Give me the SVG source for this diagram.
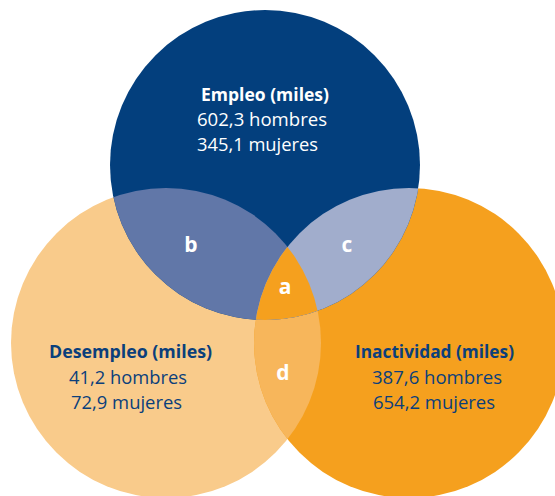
<svg xmlns="http://www.w3.org/2000/svg" width="555" height="496" viewBox="0 0 555 496">
<style>
  .t { font-family: "Open Sans", "Noto Sans", "Liberation Sans", sans-serif; font-size: 18px; }
  .b { font-weight: 700; }
  .w { fill: #FFFFFF; }
  .n { fill: #0B3F7B; }
  .lbl { font-family: "Open Sans", "Noto Sans", "Liberation Sans", sans-serif; font-size: 21px; font-weight: 700; fill: #FFFFFF; text-anchor: middle; }
</style>
<defs>
  <circle id="cTop" cx="265" cy="165" r="155"/>
  <circle id="cLeft" cx="166" cy="343" r="155"/>
  <circle id="cRight" cx="409" cy="343" r="155"/>
  <clipPath id="clipLeft"><use href="#cLeft"/></clipPath>
  <clipPath id="clipRight"><use href="#cRight"/></clipPath>
  <clipPath id="clipTop"><use href="#cTop"/></clipPath>
</defs>
<rect width="555" height="496" fill="#FFFFFF"/>

<g id="desempleo">
  <use href="#cLeft" fill="#F9CB8B"/>
</g>
<g id="inactividad">
  <use href="#cRight" fill="#F5A01E"/>
</g>
<g id="region-d">
  <g clip-path="url(#clipLeft)"><use href="#cRight" fill="#F7B65B"/></g>
</g>
<g id="empleo">
  <use href="#cTop" fill="#033F7D"/>
</g>
<g id="region-b">
  <g clip-path="url(#clipLeft)"><use href="#cTop" fill="#6177A8"/></g>
</g>
<g id="region-c">
  <g clip-path="url(#clipRight)"><use href="#cTop" fill="#A1ADCC"/></g>
</g>
<g id="region-a">
  <g clip-path="url(#clipLeft)"><g clip-path="url(#clipRight)"><use href="#cTop" fill="#F5A01E"/></g></g>
</g>

<g id="connectors"></g>

<g id="texts-empleo">
  <text class="t b w" x="201" y="101" textLength="128" lengthAdjust="spacingAndGlyphs">Empleo (miles)</text>
  <text class="t w" x="197" y="126" textLength="130" lengthAdjust="spacingAndGlyphs">602,3 hombres</text>
  <text class="t w" x="197" y="151" textLength="121" lengthAdjust="spacingAndGlyphs">345,1 mujeres</text>
</g>
<g id="texts-desempleo">
  <text class="t b n" x="49" y="358" textLength="163" lengthAdjust="spacingAndGlyphs">Desempleo (miles)</text>
  <text class="t n" x="69" y="384" textLength="118" lengthAdjust="spacingAndGlyphs">41,2 hombres</text>
  <text class="t n" x="71" y="409" textLength="111" lengthAdjust="spacingAndGlyphs">72,9 mujeres</text>
</g>
<g id="texts-inactividad">
  <text class="t b n" x="355" y="358" textLength="159" lengthAdjust="spacingAndGlyphs">Inactividad (miles)</text>
  <text class="t n" x="372" y="384" textLength="130" lengthAdjust="spacingAndGlyphs">387,6 hombres</text>
  <text class="t n" x="373" y="409" textLength="122" lengthAdjust="spacingAndGlyphs">654,2 mujeres</text>
</g>
<g id="labels">
  <text class="lbl" x="191" y="252">b</text>
  <text class="lbl" x="347" y="252">c</text>
  <text class="lbl" x="285" y="294">a</text>
  <text class="lbl" x="283" y="380">d</text>
</g>
</svg>
